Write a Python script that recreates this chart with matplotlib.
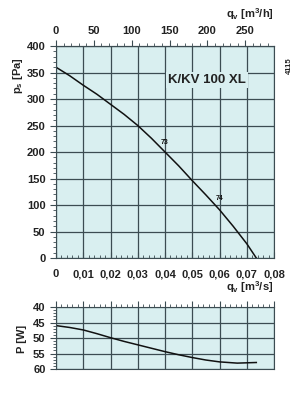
import matplotlib
matplotlib.use("Agg")
import matplotlib.pyplot as plt
from matplotlib.ticker import MultipleLocator, FuncFormatter

# Data
q_ps = [0.0, 0.005, 0.01, 0.015, 0.02, 0.025, 0.03, 0.035, 0.04, 0.045, 0.05,
        0.055, 0.06, 0.065, 0.07, 0.0735]
ps = [360, 344, 326, 309, 290, 271, 250, 226, 200, 174, 146, 119, 91, 60, 27, 0]
q_p = [0.0, 0.005, 0.01, 0.015, 0.02, 0.025, 0.03, 0.035, 0.04, 0.045, 0.05,
       0.055, 0.06, 0.0665, 0.0735]
power = [46.0, 46.6, 47.4, 48.6, 49.9, 51.1, 52.2, 53.3, 54.4, 55.4, 56.3,
         57.1, 57.7, 58.1, 57.9]
pt_labels = ["73", "74"]
pt_q = [0.04, 0.06]
pt_ps = [218, 112]
title = "K/KV 100 XL"

bg = "#d9eff0"
gc = "#3c4c52"
plt.rcParams['font.family'] = ['Liberation Sans', 'DejaVu Sans']
plt.rcParams['font.weight'] = 'bold'

fig = plt.figure(figsize=(3.0, 3.97), dpi=100)
ax = fig.add_axes([0.1867, 0.3501, 0.7267, 0.534])
ax2 = fig.add_axes([0.1867, 0.0705, 0.7267, 0.1562])

comma = FuncFormatter(lambda v, p: "0" if abs(v) < 1e-9 else f"{v:.2f}".replace(".", ","))

fs = 8
for a in (ax, ax2):
    a.set_facecolor(bg)
    a.set_xlim(0, 0.08)
    a.xaxis.set_major_locator(MultipleLocator(0.01))
    a.xaxis.set_minor_locator(MultipleLocator(0.002))
    a.grid(True, which='major', color=gc, lw=0.9)
    for s in a.spines.values():
        s.set_color(gc)
        s.set_linewidth(0.8)
    a.tick_params(which='both', colors=gc, labelcolor='#222222', labelsize=fs)
    a.tick_params(which='major', length=4)
    a.tick_params(which='minor', length=2.5)

# main plot
ax.set_ylim(0, 400)
ax.yaxis.set_major_locator(MultipleLocator(50))
ax.yaxis.set_minor_locator(MultipleLocator(10))
ax.xaxis.set_major_formatter(comma)
ax.tick_params(axis='x', which='both', direction='in', top=False, pad=8)
ax.plot(q_ps, ps, color='#111111', lw=1.1)
for lab, qx, py in zip(pt_labels, pt_q, pt_ps):
    ax.text(qx, py, lab, fontsize=5, ha='center', va='center', color='#111111')
ax.text(0.0555, 336, title, fontsize=9.5, ha='center', va='center',
        color='#222222', bbox=dict(facecolor=bg, edgecolor='none', pad=1.5))

sec = ax.secondary_xaxis('top', functions=(lambda x: x * 3600, lambda x: x / 3600))
sec.xaxis.set_major_locator(MultipleLocator(50))
sec.xaxis.set_minor_locator(MultipleLocator(10))
sec.tick_params(which='both', colors=gc, labelcolor='#222222', labelsize=fs)
sec.tick_params(which='major', length=4)
sec.tick_params(which='minor', length=2.5)
sec.spines['top'].set_color(gc)

# lower plot
ax2.set_ylim(60, 40)
ax2.yaxis.set_major_locator(MultipleLocator(5))
ax2.yaxis.set_minor_locator(MultipleLocator(1))
ax2.tick_params(axis='x', which='both', bottom=False, labelbottom=False, top=True, direction='out')
ax2.plot(q_p, power, color='#111111', lw=1.1)

# labels
fig.text(0.06, 0.81, r"p$_\mathregular{s}$ [Pa]", rotation=90, fontsize=8,
         ha='center', va='center', color='#222222')
fig.text(0.912, 0.965, r"q$_\mathregular{v}$ [m$^\mathregular{3}$/h]", fontsize=8,
         ha='right', va='center', color='#222222')
fig.text(0.912, 0.277, r"q$_\mathregular{v}$ [m$^\mathregular{3}$/s]", fontsize=8,
         ha='right', va='center', color='#222222')
fig.text(0.073, 0.145, "P [W]", rotation=90, fontsize=8,
         ha='center', va='center', color='#222222')
fig.text(0.965, 0.835, "4115", rotation=90, fontsize=5.5,
         ha='center', va='center', color='#222222')

fig.savefig("out.png", dpi=100, facecolor='white')
